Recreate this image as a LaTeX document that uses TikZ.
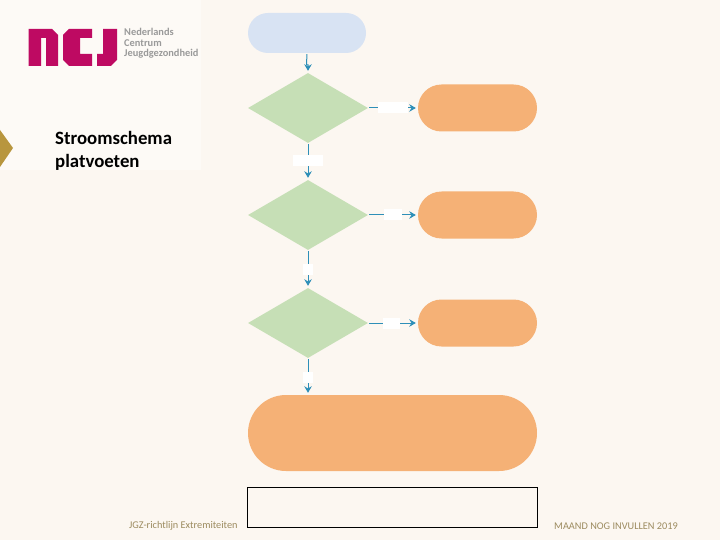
\documentclass[tikz,border=0pt]{standalone}
\usepackage{fontspec}
\setmainfont{Carlito}
\usetikzlibrary{shapes.geometric,shapes.misc,arrows.meta,calc}
\definecolor{bgc}{HTML}{FCF7F1}
\definecolor{panelc}{HTML}{FDFAF6}
\definecolor{bluec}{HTML}{D8E3F3}
\definecolor{greenc}{HTML}{C6DFB6}
\definecolor{orangec}{HTML}{F5B176}
\definecolor{linkc}{HTML}{2E8FB8}
\definecolor{logoc}{HTML}{BE0A62}
\definecolor{goldc}{HTML}{B8963E}
\definecolor{footc}{HTML}{9C8B5F}
\definecolor{logotxt}{HTML}{9A9A9A}
\tikzset{
  x=1pt,y=-1pt,
  pill/.style={shape=rounded rectangle,inner sep=0pt,minimum width=#1},
  startbox/.style={pill=118pt,minimum height=40pt,fill=bluec},
  endbox/.style={pill=119pt,minimum height=47pt,fill=orangec},
  bigbox/.style={pill=289pt,minimum height=76pt,fill=orangec},
  decision/.style={shape=diamond,inner sep=0pt,minimum width=120pt,minimum height=70pt,aspect=1.714,fill=greenc},
  lab/.style={fill=white,inner sep=0pt,minimum width=#1,minimum height=11pt},
  link/.style={draw=linkc,line width=1pt,-{Stealth[length=6.5pt,width=7.5pt]},shorten >=2pt,shorten <=1pt},
  logotext/.style={font=\bfseries\fontsize{10.4}{12}\selectfont,text=logotxt,anchor=west,inner sep=0pt},
  foot/.style={font=\fontsize{10.3}{12}\selectfont,text=footc,anchor=west,inner sep=0pt},
  frame/.style={draw=black,line width=1pt,inner sep=0pt,minimum width=290pt,minimum height=40pt}
}
\begin{document}
\begin{tikzpicture}
\useasboundingbox (0,0) rectangle (720,540);
\fill[bgc] (0,0) rectangle (720,540);
\fill[panelc] (0,0) rectangle (201,170);
% chevron
\fill[goldc] (0,130) -- (13,148) -- (0,167) -- cycle;
% logo
\begin{scope}[logoc]
\fill (28.5,29) -- (52,29) -- (58,35) -- (58,66) -- (46,66) -- (46,38) -- (41,38) -- (41,66) -- (28.5,66) -- cycle;
\fill (69,29) -- (92,29) -- (92,38) -- (80,38) -- (80,54) -- (92,54) -- (92,66) -- (69,66) -- (63,60) -- (63,35) -- cycle;
\fill (103,29) -- (117,29) -- (117,60) -- (111,66) -- (97,66) -- (97,54) -- (103,54) -- cycle;
\end{scope}
\node[logotext] (lg1) at (124,32) {Nederlands};
\node[logotext] (lg2) at (124,43) {Centrum};
\node[logotext] (lg3) at (124,54) {Jeugdgezondheid};
% title
\node[anchor=north west,inner sep=0pt,align=left,font=\bfseries\fontsize{18.8}{23}\selectfont,text=black] (title) at (55,131) {Stroomschema\\platvoeten};
% flow shapes
\node[startbox] (start) at (307,33) {};
\node[decision] (d1) at (308,108) {};
\node[decision] (d2) at (308,215) {};
\node[decision] (d3) at (308,323) {};
\node[endbox] (e1) at (477.5,108) {};
\node[endbox] (e2) at (477.5,215) {};
\node[endbox] (e3) at (477.5,323) {};
\node[bigbox] (big) at (392.5,433) {};
\node[frame] (fr) at (392.5,507) {};
% connectors
\coordinate (jog) at (306.5,65);
\draw[link] (start.south) -- (jog) -| (d1.north);
\draw[link] (d1.south) -- (d2.north);
\draw[link] (d2.south) -- (d3.north);
\draw[link] (d3.south) -- (big.north -| d3.south);
\draw[link] (d1.east) -- (e1.west);
\draw[link] (d2.east) -- (e2.west);
\draw[link] (d3.east) -- (e3.west);
% white label boxes
\node[lab=30pt] (l1) at (393,108) {};
\node[lab=30pt] (l2) at (308,161) {};
\node[lab=18pt] (l3) at (393,215) {};
\node[lab=10pt] (l4) at (308,269) {};
\node[lab=17pt] (l5) at (391.5,323) {};
\node[lab=10pt] (l6) at (308,377) {};
% footer
\node[foot] (f1) at (129,526) {JGZ-richtlijn Extremiteiten};
\node[foot] (f2) at (554,526) {MAAND NOG INVULLEN  2019};
\end{tikzpicture}
\end{document}
